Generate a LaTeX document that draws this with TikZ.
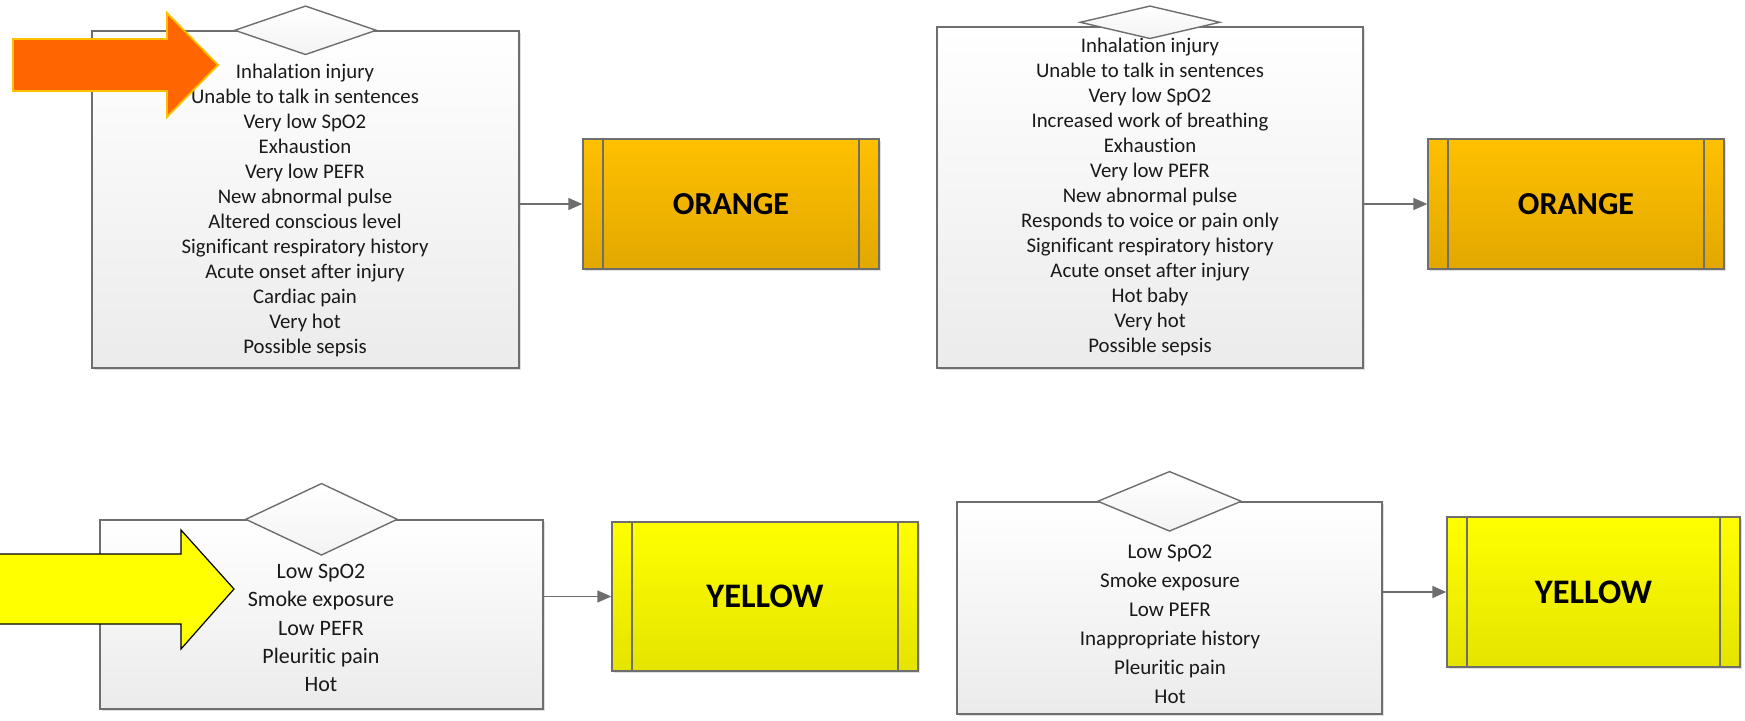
\documentclass[tikz,border=0pt]{standalone}
\usepackage{fontspec}
\setmainfont{Carlito}[Ligatures=NoCommon]
\usetikzlibrary{shapes.geometric, arrows.meta, shadows}

\definecolor{edgegrey}{HTML}{6E6E6E}
\definecolor{panelgrey}{HTML}{EBEBEB}
\definecolor{ambertop}{HTML}{FFC000}
\definecolor{amberbot}{HTML}{E2A800}
\definecolor{lemontop}{HTML}{FFFF00}
\definecolor{lemonbot}{HTML}{E4E400}
\definecolor{pointer}{HTML}{FF6600}

\begin{document}
\begin{tikzpicture}[x=0.5pt, y=-0.5pt,
    panel/.style={draw=edgegrey, line width=0.7pt, top color=white, bottom color=panelgrey,
        drop shadow={shadow xshift=1.2pt, shadow yshift=-1.2pt, opacity=0.25}},
    gate/.style={diamond, draw=edgegrey, line width=0.7pt, top color=white, bottom color=panelgrey!60, inner sep=0pt},
    signs/.style={align=center, text=black!90, font=\fontsize{10.4}{12.5}\selectfont},
    bigsigns/.style={align=center, text=black!90},
    outcome/.style={draw=edgegrey, line width=0.7pt,
        drop shadow={shadow xshift=1.2pt, shadow yshift=-1.2pt, opacity=0.25},
        path picture={
            \draw[edgegrey, line width=0.7pt] ([xshift=10pt]path picture bounding box.north west) -- ([xshift=10pt]path picture bounding box.south west);
            \draw[edgegrey, line width=0.7pt] ([xshift=-10pt]path picture bounding box.north east) -- ([xshift=-10pt]path picture bounding box.south east);
        }},
    link/.style={draw=edgegrey, line width=0.8pt, -{Triangle[length=7pt, width=6pt]}}]

    \useasboundingbox (0,0) rectangle (1745,721);

    % Top left: signs leading to orange
    \node[panel, minimum width=213.5pt, minimum height=168.5pt] (crit1) at (305.5,199.5) {};
    \node[gate, minimum width=71pt, minimum height=24.5pt] (gate1) at (crit1.north) {};
    \node[signs] (list1) at (305,210.5) {Inhalation injury\\Unable to talk in sentences\\Very low SpO2\\Exhaustion\\Very low PEFR\\New abnormal pulse\\Altered conscious level\\Significant respiratory history\\Acute onset after injury\\Cardiac pain\\Very hot\\Possible sepsis};
    \node[outcome, top color=ambertop, bottom color=amberbot, minimum width=148pt, minimum height=65pt,
        font=\fontsize{16}{18}\selectfont\bfseries] (orange1) at (731,204) {ORANGE};
    \draw[link] (orange1.west -| crit1.east) -- (orange1.west);

    % Top right
    \node[panel, minimum width=213pt, minimum height=170.5pt] (crit2) at (1150,197.5) {};
    \node[gate, minimum width=70pt, minimum height=16.5pt] (gate2) at ([yshift=2pt]crit2.north) {};
    \node[signs] (list2) at (1150,196.5) {Inhalation injury\\Unable to talk in sentences\\Very low SpO2\\Increased work of breathing\\Exhaustion\\Very low PEFR\\New abnormal pulse\\Responds to voice or pain only\\Significant respiratory history\\Acute onset after injury\\Hot baby\\Very hot\\Possible sepsis};
    \node[outcome, top color=ambertop, bottom color=amberbot, minimum width=148pt, minimum height=65pt,
        font=\fontsize{16}{18}\selectfont\bfseries] (orange2) at (1576,204) {ORANGE};
    \draw[link] (orange2.west -| crit2.east) -- (orange2.west);

    % Bottom left: signs leading to yellow
    \node[panel, minimum width=221.5pt, minimum height=94.5pt] (crit3) at (321.5,614.5) {};
    \node[gate, minimum width=76pt, minimum height=36pt] (gate3) at (crit3.north) {};
    \node[bigsigns, font=\fontsize{11}{14.1}\selectfont] (list3) at (321,628) {Low SpO2\\Smoke exposure\\Low PEFR\\Pleuritic pain\\Hot};
    \node[outcome, top color=lemontop, bottom color=lemonbot, minimum width=153pt, minimum height=74.5pt,
        font=\fontsize{17.2}{19}\selectfont\bfseries] (yellow1) at (765,596.5) {YELLOW};
    \draw[link] (yellow1.west -| crit3.east) -- (yellow1.west);

    % Bottom right
    \node[panel, minimum width=212.5pt, minimum height=106pt] (crit4) at (1169.5,608) {};
    \node[gate, minimum width=72pt, minimum height=30pt] (gate4) at (crit4.north) {};
    \node[bigsigns, font=\fontsize{10.5}{14.5}\selectfont] (list4) at (1170,624.5) {Low SpO2\\Smoke exposure\\Low PEFR\\Inappropriate history\\Pleuritic pain\\Hot};
    \node[outcome, top color=lemontop, bottom color=lemonbot, minimum width=146.5pt, minimum height=75pt,
        font=\fontsize{17.2}{19}\selectfont\bfseries] (yellow2) at (1593.5,592) {YELLOW};
    \draw[link] (yellow2.west -| crit4.east) -- (yellow2.west);

    % Pointer arrows
    \filldraw[fill=pointer, draw=ambertop, line width=0.9pt] (13,39) -- (167,39) -- (167,13) -- (218,65) -- (167,117) -- (167,91) -- (13,91) -- cycle;
    \filldraw[fill=lemontop, draw=black, line width=0.6pt] (-4,554) -- (181,554) -- (181,530) -- (234,589) -- (181,649) -- (181,624) -- (-4,624) -- cycle;
\end{tikzpicture}
\end{document}
